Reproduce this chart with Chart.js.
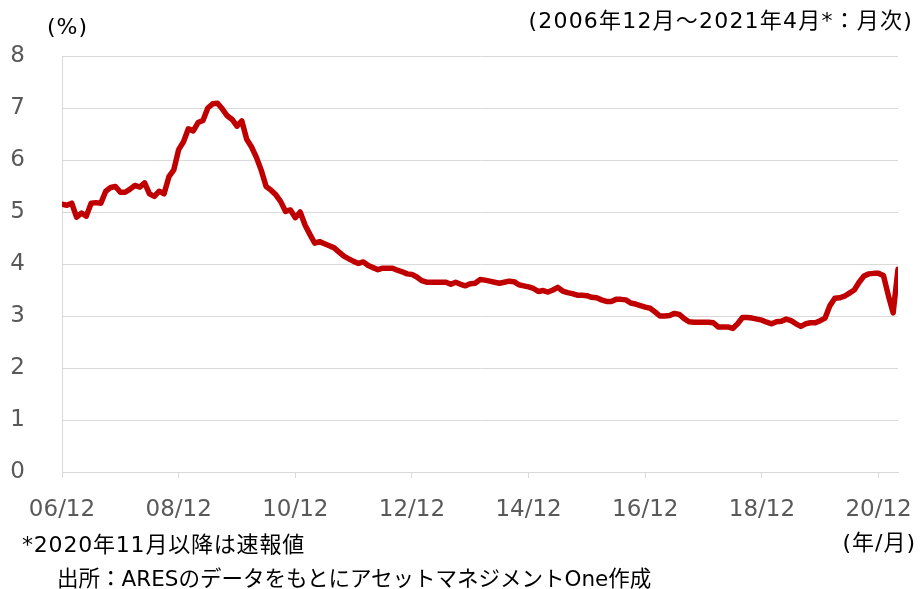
<!DOCTYPE html>
<html lang="ja">
<head>
    <meta charset="UTF-8">
    <title>空室率</title>
    <script src="https://cdn.jsdelivr.net/npm/chart.js"></script>
    <style>
        body { margin: 0; background: #fff; }
        .wrap { position: relative; width: 920px; height: 589px; }
        .lbl { position: absolute; font-family: "DejaVu Sans", "Noto Sans CJK JP", sans-serif; font-size: 22px; color: #000; white-space: nowrap; line-height: 1; }
    </style>
</head>
<body>
<div class="wrap">
    <canvas id="chart" width="920" height="589"></canvas>
    <div class="lbl" style="left:47px; top:16px; letter-spacing:1px;">(%)</div>
    <div class="lbl" style="right:7px; top:10px; letter-spacing:1.2px;">(2006年12月～2021年4月*：月次)</div>
    <div class="lbl" style="left:22px; top:534px; letter-spacing:0.8px;">*2020年11月以降は速報値</div>
    <div class="lbl" style="right:4px; top:532px; letter-spacing:1px;">(年/月)</div>
    <div class="lbl" style="left:57px; top:568px; font-size:21.5px;">出所：ARESのデータをもとにアセットマネジメントOne作成</div>
</div>
<script>
    // x tick labels, one every 24 months starting 2006/12
    const tickLabels = ['06/12', '08/12', '10/12', '12/12', '14/12', '16/12', '18/12', '20/12'];

    // monthly values (%), 2006/12 .. 2021/4
    const rates2007 = [5.15, 5.13, 5.17, 4.90, 4.98, 4.92, 5.17, 5.18, 5.17, 5.40, 5.47, 5.49];   // 06/12 - 07/11
    const rates2008 = [5.38, 5.38, 5.44, 5.51, 5.48, 5.56, 5.35, 5.30, 5.40, 5.35, 5.68, 5.81];   // 07/12 - 08/11
    const rates2009 = [6.20, 6.35, 6.60, 6.56, 6.72, 6.76, 7.00, 7.08, 7.09, 6.98, 6.85, 6.78];
    const rates2010 = [6.65, 6.75, 6.40, 6.25, 6.05, 5.80, 5.49, 5.42, 5.33, 5.20, 5.01, 5.04];
    const rates2011 = [4.89, 5.00, 4.75, 4.57, 4.40, 4.43, 4.39, 4.35, 4.31, 4.23, 4.15, 4.10];
    const rates2012 = [4.05, 4.01, 4.04, 3.97, 3.93, 3.89, 3.92, 3.92, 3.92, 3.88, 3.85, 3.81];
    const rates2013 = [3.80, 3.75, 3.68, 3.65, 3.65, 3.65, 3.65, 3.65, 3.61, 3.65, 3.61, 3.58];
    const rates2014 = [3.62, 3.63, 3.70, 3.69, 3.67, 3.65, 3.63, 3.65, 3.67, 3.66, 3.60, 3.58];
    const rates2015 = [3.56, 3.53, 3.47, 3.49, 3.46, 3.50, 3.55, 3.48, 3.45, 3.43, 3.40, 3.40];
    const rates2016 = [3.39, 3.36, 3.35, 3.31, 3.28, 3.28, 3.32, 3.32, 3.31, 3.25, 3.23, 3.20];
    const rates2017 = [3.17, 3.15, 3.08, 3.00, 3.00, 3.01, 3.05, 3.03, 2.95, 2.89, 2.88, 2.88];
    const rates2018 = [2.88, 2.88, 2.87, 2.79, 2.79, 2.79, 2.76, 2.85, 2.97, 2.97, 2.96, 2.94];
    const rates2019 = [2.92, 2.88, 2.85, 2.89, 2.90, 2.94, 2.91, 2.85, 2.80, 2.85, 2.87, 2.87];
    const rates2020 = [2.91, 2.96, 3.20, 3.34, 3.35, 3.38, 3.44, 3.50, 3.65, 3.77, 3.81, 3.82];
    const rates2021 = [3.82, 3.78, 3.40, 3.06, 3.90];                                           // 20/12 - 21/4

    const rates = [].concat(rates2007, rates2008, rates2009, rates2010, rates2011, rates2012, rates2013,
        rates2014, rates2015, rates2016, rates2017, rates2018, rates2019, rates2020, rates2021);

    const tickFont = { family: '"DejaVu Sans", "Noto Sans CJK JP", sans-serif', size: 23 };
    const gridColor = '#d9d9d9';

    new Chart(document.getElementById('chart'), {
        type: 'line',
        data: {
            datasets: [{
                data: rates.map((v, i) => ({ x: i, y: v })),
                borderColor: '#c00000',
                borderWidth: 5.5,
                pointRadius: 0,
                tension: 0,
                borderJoinStyle: 'round',
                borderCapStyle: 'round'
            }]
        },
        options: {
            responsive: false,
            animation: false,
            layout: { padding: { top: 56, right: 22, left: 0, bottom: 0 } },
            plugins: { legend: { display: false }, tooltip: { enabled: false } },
            scales: {
                x: {
                    type: 'linear',
                    min: 0,
                    max: rates.length - 1,
                    afterFit: (scale) => {
                        scale.height = 117;
                        // let the last label hang into the right margin like the original
                        scale.paddingRight = 0;
                        scale.paddingLeft = 0;
                    },
                    grid: { drawOnChartArea: false, drawTicks: true, tickLength: 6, color: gridColor },
                    border: { color: gridColor, width: 1 },
                    ticks: {
                        stepSize: 24,
                        includeBounds: false,
                        autoSkip: false,
                        maxRotation: 0,
                        padding: 18,
                        color: '#595959',
                        font: tickFont,
                        callback: (v) => tickLabels[v / 24]
                    }
                },
                y: {
                    min: 0,
                    max: 8,
                    afterFit: (scale) => { scale.width = 62; },
                    grid: { color: gridColor, drawTicks: false },
                    border: { color: gridColor, width: 1 },
                    ticks: { stepSize: 1, padding: 37, color: '#595959', font: tickFont }
                }
            }
        }
    });
</script>
</body>
</html>
